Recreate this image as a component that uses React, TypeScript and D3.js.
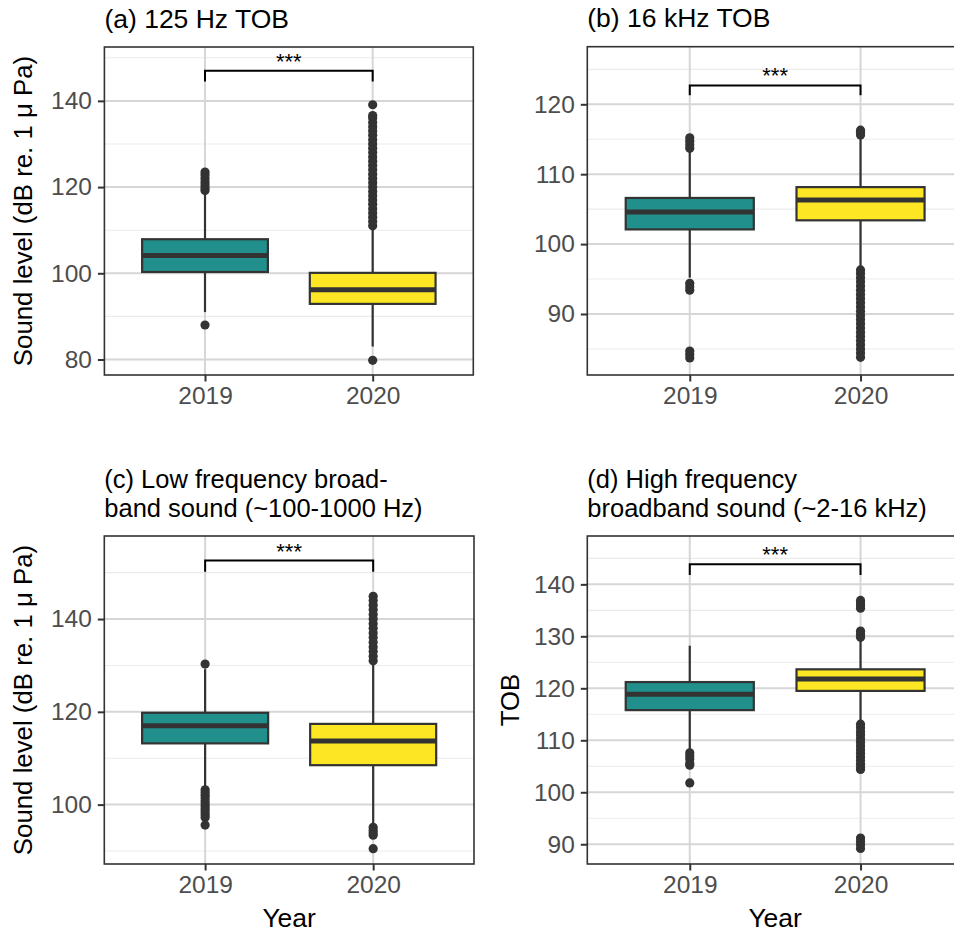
import React, { useEffect, useRef } from 'react';
import * as d3 from 'd3';

const years = ['2019', '2020'];

// box stats per year: [lower whisker, Q1, median, Q3, upper whisker]
const boxA = [[91, 100.3, 104.1, 107.9, 118.5], [83, 92.9, 96.2, 100.1, 110.5]];
const outA2019 = [88, 119.2, 119.8, 120.5, 121.2, 122, 122.8, 123.5];
const outA2020 = [79.8, 111, 112, 113, 114, 115, 116, 117, 118, 119, 120, 121, 122, 123, 124, 125, 126, 127, 128, 129, 130, 131, 132, 133, 134, 135, 136, 136.6, 139.1];

const boxB = [[95.2, 102.1, 104.6, 106.6, 113.3], [96.8, 103.4, 106.3, 108.15, 115.4]];
const outB2019 = [83.7, 84.2, 84.7, 93.4, 93.9, 94.4, 113.7, 114.2, 114.7, 115.2];
const outB2020 = [115.6, 116, 116.3, 96.3, 95.8, 95.2, 94.6, 94, 93.4, 92.8, 92.2, 91.6, 91, 90.4, 89.8, 89.2, 88.6, 88, 87.4, 86.8, 86.2, 85.6, 85, 84.4, 83.8];

const boxC = [[104, 113.2, 117, 119.8, 129.2], [95.8, 108.5, 113.7, 117.4, 130.5]];
const outC2019 = [130.3, 103.2, 102.6, 102, 101.4, 100.8, 100.2, 99.6, 99, 98.4, 97.8, 97.2, 95.6];
const outC2020 = [131, 132, 133, 134, 135, 136, 137, 138, 139, 140, 141, 142, 143, 144, 144.9, 95.1, 94.5, 93.9, 93.4, 90.5];

const boxD = [[108.2, 115.8, 118.85, 121.2, 128.2], [113.6, 119.5, 121.8, 123.65, 129.4]];
const outD2019 = [107.6, 107, 106.4, 105.6, 105.2, 101.8];
const outD2020 = [129.8, 130.4, 131, 135.4, 135.9, 136.4, 136.9, 113.1, 112.4, 111.7, 111, 110.3, 109.6, 108.9, 108.2, 107.5, 106.8, 106.1, 105.4, 104.7, 104.4, 91.2, 90.6, 89.9, 89.2];

const ticksA = [80, 100, 120, 140];
const minorA = [90, 110, 130, 150];
const ticksB = [90, 100, 110, 120];
const minorB = [85, 95, 105, 115, 125];
const ticksC = [100, 120, 140];
const minorC = [90, 110, 130, 150];
const ticksD = [90, 100, 110, 120, 130, 140];
const minorD = [95, 105, 115, 125, 135, 145];

const fills = ['#21908C', '#FDE725'];
const FONT = "'Liberation Sans', Arial, sans-serif";

const panels = [
  { title: ['(a) 125 Hz TOB'], ylab: 'Sound level (dB re. 1 μ Pa)', xlab: '', boxes: boxA, outs: [outA2019, outA2020],
    ticks: ticksA, minor: minorA, domain: [76.4, 152.5], sig: [144.5, 147], L: 104.4, R: 473.3, T: 47, B: 375 },
  { title: ['(b) 16 kHz TOB'], ylab: '', xlab: '', boxes: boxB, outs: [outB2019, outB2020],
    ticks: ticksB, minor: minorB, domain: [81.27, 128.24], sig: [121.3, 122.7], L: 587.3, R: 963, T: 46.7, B: 375 },
  { title: ['(c) Low frequency broad-', 'band sound (~100-1000 Hz)'], ylab: 'Sound level (dB re. 1 μ Pa)', xlab: 'Year', boxes: boxC, outs: [outC2019, outC2020],
    ticks: ticksC, minor: minorC, domain: [87.2, 157.9], sig: [150.2, 152.6], L: 104.3, R: 474, T: 536, B: 864 },
  { title: ['(d) High frequency', 'broadband sound (~2-16 kHz)'], ylab: 'TOB', xlab: 'Year', boxes: boxD, outs: [outD2019, outD2020],
    ticks: ticksD, minor: minorD, domain: [86.2, 149.3], sig: [141.8, 143.85], L: 587.3, R: 963, T: 536, B: 864 },
];

const App = () => {
  const ref = useRef<SVGSVGElement>(null);

  useEffect(() => {
    const svg = d3.select(ref.current);
    svg.selectAll('*').remove();

    panels.forEach((p) => {
      const g = svg.append('g');
      const x = d3.scalePoint<string>().domain(years).range([p.L, p.R]).padding(0.6);
      const y = d3.scaleLinear().domain(p.domain).range([p.B, p.T]);
      const bw = x.step() * 0.75;

      // background grid
      g.selectAll('.minor').data(p.minor).join('line')
        .attr('x1', p.L).attr('x2', p.R).attr('y1', (d) => y(d)).attr('y2', (d) => y(d))
        .attr('stroke', '#EBEBEB').attr('stroke-width', 1.1);
      g.selectAll('.major').data(p.ticks).join('line')
        .attr('x1', p.L).attr('x2', p.R).attr('y1', (d) => y(d)).attr('y2', (d) => y(d))
        .attr('stroke', '#D6D6D6').attr('stroke-width', 2);
      g.selectAll('.vgrid').data(years).join('line')
        .attr('x1', (d) => x(d)!).attr('x2', (d) => x(d)!).attr('y1', p.T).attr('y2', p.B)
        .attr('stroke', '#D6D6D6').attr('stroke-width', 2);

      // boxplots
      years.forEach((yr, i) => {
        const [lo, q1, med, q3, hi] = p.boxes[i];
        const cx = x(yr)!;
        g.append('line').attr('x1', cx).attr('x2', cx).attr('y1', y(hi)).attr('y2', y(q3))
          .attr('stroke', '#333333').attr('stroke-width', 2.2);
        g.append('line').attr('x1', cx).attr('x2', cx).attr('y1', y(q1)).attr('y2', y(lo))
          .attr('stroke', '#333333').attr('stroke-width', 2.2);
        g.append('rect').attr('x', cx - bw / 2).attr('width', bw)
          .attr('y', y(q3)).attr('height', y(q1) - y(q3))
          .attr('fill', fills[i]).attr('stroke', '#333333').attr('stroke-width', 2.2);
        g.append('line').attr('x1', cx - bw / 2).attr('x2', cx + bw / 2).attr('y1', y(med)).attr('y2', y(med))
          .attr('stroke', '#333333').attr('stroke-width', 5);
        g.selectAll(null).data(p.outs[i]).join('circle')
          .attr('cx', cx).attr('cy', (d) => y(d)).attr('r', 4.6).attr('fill', '#333333');
      });

      // significance bracket
      const x1 = x(years[0])!;
      const x2 = x(years[1])!;
      g.append('path')
        .attr('d', `M${x1},${y(p.sig[0])}V${y(p.sig[1])}H${x2}V${y(p.sig[0])}`)
        .attr('fill', 'none').attr('stroke', '#000').attr('stroke-width', 2);
      g.append('text').attr('x', (x1 + x2) / 2).attr('y', y(p.sig[1]) - 2)
        .attr('text-anchor', 'middle').attr('font-family', FONT).attr('font-size', 22).attr('fill', '#000')
        .text('***');

      // panel border
      g.append('rect').attr('x', p.L).attr('y', p.T).attr('width', p.R - p.L).attr('height', p.B - p.T)
        .attr('fill', 'none').attr('stroke', '#333333').attr('stroke-width', 1.6);

      // axes
      const ya = g.append('g').attr('transform', `translate(${p.L},0)`)
        .call(d3.axisLeft(y).tickValues(p.ticks).tickSize(6.5).tickPadding(6).tickFormat(d3.format('d')));
      const xa = g.append('g').attr('transform', `translate(0,${p.B})`)
        .call(d3.axisBottom(x).tickSize(6.5).tickPadding(5));
      [ya, xa].forEach((a) => {
        a.select('.domain').remove();
        a.selectAll('.tick line').attr('stroke', '#333333').attr('stroke-width', 2);
        a.selectAll('.tick text').attr('font-family', FONT).attr('font-size', 24.5).attr('fill', '#4D4D4D');
      });

      // title, wrapped lines as tspans of one text
      const two = p.title.length > 1;
      const tt = g.append('text').attr('font-family', FONT).attr('font-size', two ? 25.5 : 26.5).attr('fill', '#000');
      p.title.forEach((t, k) => {
        tt.append('tspan').attr('x', p.L)
          .attr('y', p.T - 19.5 - (p.title.length - 1 - k) * 28.5)
          .text(t);
      });
      if (p.ylab) {
        const lx = p.ylab === 'TOB' ? 519 : 32;
        g.append('text').attr('transform', `translate(${lx},${(p.T + p.B) / 2}) rotate(-90)`)
          .attr('text-anchor', 'middle').attr('font-family', FONT).attr('font-size', 25.8).attr('fill', '#000')
          .text(p.ylab);
      }
      if (p.xlab) {
        g.append('text').attr('x', (p.L + p.R) / 2).attr('y', 927)
          .attr('text-anchor', 'middle').attr('font-family', FONT).attr('font-size', 26.5).attr('fill', '#000')
          .text(p.xlab);
      }
    });
  }, []);

  return (
    <svg ref={ref} width={954} height={934}
      style={{ position: 'absolute', left: 0, top: 0, background: '#fff', display: 'block' }} />
  );
};

export default App;
